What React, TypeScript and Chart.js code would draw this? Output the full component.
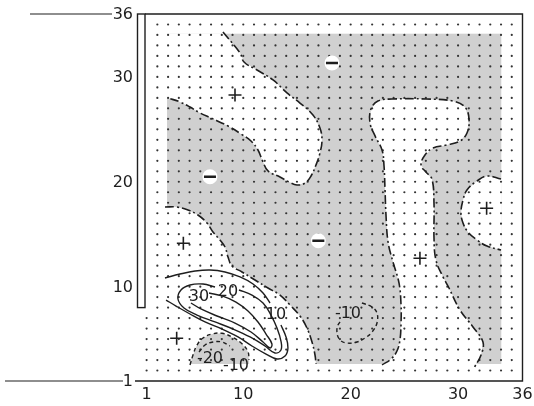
import { useEffect, useRef } from "react";
import { Chart, registerables } from "chart.js";
Chart.register(...registerables);

type P = [number, number];

const xTicks = [1, 10, 20, 30, 36];
const yTicks = [1, 10, 20, 30, 36];

const gridCols = [2,3,4,5,6,7,8,9,10,11,12,13,14,15,16,17,18,19,20,21,22,23,24,25,26,27,28,29,30,31,32,33,34,35];
const gridRows = [2,3,4,5,6,7,8,9,10,11,12,13,14,15,16,17,18,19,20,21,22,23,24,25,26,27,28,29,30,31,32,33,34,35];
const edgeCol = [1];
const edgeRows = [2,3,4,5,6,7];

// shaded (negative) field bounds: [x0, x1] and [y0, y1]
const shadeX = [2.9, 34.05];
const shadeY = [2.62, 34.15];
const barTopValue = 36;
const barBottomValue = 8;

// zero contours (dash-dot)
const zeroA: P[] = [[8.11,34.28],[9.70,32.28],[10.07,31.42],[11.28,30.66],[12.77,29.71],[14.07,28.47],[15.28,27.51],[16.49,26.37],[17.14,25.13],[17.33,23.98],[17.14,22.74],[16.77,21.60],[16.31,20.55],[15.75,19.88],[15.00,19.69],[14.26,19.98],[13.42,20.46],[12.30,21.03],[11.84,21.89],[11.37,23.03],[10.72,23.89],[9.79,24.56],[8.58,25.32],[7.00,26.08],[5.97,26.56],[5.04,27.13],[4.11,27.61],[2.99,27.99]];
const zeroAClose: P[] = [[0,27.99],[0,37],[8.11,37]];
const zeroB: P[] = [[2.71,17.59],[3.83,17.59],[4.85,17.31],[5.78,16.83],[6.62,16.07],[7.18,15.21],[7.83,14.45],[8.30,13.78],[8.58,12.83],[8.95,11.97],[9.88,11.40],[11.09,10.63],[12.30,9.87],[13.42,9.20],[14.35,8.25],[15.28,7.20],[15.93,6.05],[16.40,4.72],[16.68,3.48],[16.77,2.62]];
const zeroBClose: P[] = [[16.77,0],[0,0],[0,17.59]];
const zeroC: P[] = [[22.92,2.53],[23.76,3.10],[24.31,3.86],[24.59,4.91],[24.69,6.53],[24.69,8.25],[24.50,10.35],[23.94,12.35],[23.48,14.26],[23.29,16.83],[23.20,19.22],[23.10,21.60],[22.92,23.03],[22.27,24.37],[21.80,25.61],[21.89,26.94],[22.54,27.70],[23.85,27.89],[27.01,27.89],[29.53,27.70],[30.64,27.13],[31.02,25.99],[30.83,24.65],[30.18,23.89],[28.97,23.51],[27.67,23.22],[26.92,22.55],[26.55,21.60],[27.01,20.93],[27.57,20.26],[27.76,17.88],[27.76,14.64],[27.94,12.54],[28.60,10.92],[29.06,10.06],[30.18,7.77],[31.39,6.15],[32.32,4.72],[32.14,3.48],[31.48,2.24]];
const zeroCClose: P[] = [[31.48,0],[22.92,0]];
const zeroD: P[] = [[34.00,20.26],[32.69,20.55],[31.76,20.07],[30.83,19.22],[30.46,18.26],[30.27,17.02],[30.46,16.07],[30.92,15.21],[31.76,14.45],[32.69,13.87],[34.00,13.49]];
const zeroDClose: P[] = [[37,13.49],[37,20.26]];

// positive contours (solid)
const pos10a: P[] = [[2.71,10.82],[4.11,11.20],[5.51,11.49],[6.90,11.59],[8.30,11.40],[9.70,10.92],[10.91,10.25],[11.84,9.39],[12.49,8.44]];
const pos10b: P[] = [[13.51,6.34],[13.98,5.20],[14.16,4.15],[13.89,3.38],[13.14,3.10],[12.12,3.57],[10.81,4.34],[9.51,5.20],[8.02,5.96],[6.44,6.63],[5.04,7.39],[3.74,8.15],[2.81,8.72]];
const pos20: P[] = [[9.60,9.68],[10.81,9.20],[11.84,8.44],[12.58,7.29],[13.14,6.05],[13.51,4.81],[13.51,3.96],[12.95,3.67],[12.02,4.34],[10.63,5.20],[9.04,5.96],[7.37,6.63],[5.69,7.29],[4.48,7.96],[3.92,8.82],[4.20,9.68],[5.04,10.16],[6.25,10.25],[7.37,9.96]];
const pos30: P[] = [[6.81,9.39],[8.02,9.11],[9.32,8.53],[10.44,7.68],[11.37,6.63],[12.12,5.48],[12.67,4.53],[12.49,4.15],[11.84,4.72],[10.72,5.67],[9.23,6.53],[7.55,7.20],[6.06,7.87],[5.13,8.44]];

// negative contours (dashed)
const neg10blob: P[] = [[5.04,2.53],[5.32,3.48],[5.69,4.43],[6.25,5.10],[7.09,5.48],[8.02,5.55],[9.04,5.15],[9.88,4.55],[10.44,3.80],[10.53,3.00]];
const neg10blobClose: P[] = [[10.6,1.5],[5.0,1.5]];
const neg20: P[] = [[5.88,3.77],[6.44,4.43],[7.18,4.72],[8.02,4.72],[8.76,4.34]];
const neg10mid: P[] = [[21.05,8.44],[21.99,8.06],[22.45,7.49],[22.45,6.53],[21.99,5.67],[21.33,5.10],[20.59,4.72],[19.66,4.62],[19.01,4.91],[18.73,5.58],[18.82,6.34],[19.19,6.82]];

const contourLabels = [
  { t: "30", x: 5.88, y: 9.01 },
  { t: "20", x: 8.58, y: 9.49 },
  { t: "10", x: 13.05, y: 7.29 },
  { t: "-10", x: 19.75, y: 7.45 },
  { t: "-20", x: 6.90, y: 3.10 },
  { t: "-10", x: 9.32, y: 2.43 },
];

const plusMarks: P[] = [[9.23,28.28],[4.42,14.13],[3.80,5.07],[26.45,12.70],[32.66,17.47]];
const minusMarks: P[] = [[18.26,31.33],[6.90,20.48],[16.99,14.38]];

const INK = "#1e1e1e";
const GRAY = "rgb(208,208,208)";
const FONT = "16px 'DejaVu Sans'";

const xy = (arr: P[]) => arr.map(([x, y]) => ({ x, y }));

export default function App() {
  const ref = useRef<HTMLCanvasElement | null>(null);
  useEffect(() => {
    if (!ref.current) return;
    const dots: { x: number; y: number }[] = [];
    gridRows.forEach((r) => gridCols.forEach((c) => dots.push({ x: c, y: r })));
    edgeRows.forEach((r) => edgeCol.forEach((c) => dots.push({ x: c, y: r })));

    const line = (pts: P[], kind: "zero" | "pos" | "neg") => ({
      data: xy(pts),
      showLine: true,
      pointRadius: 0,
      borderColor: INK,
      borderWidth: kind === "zero" ? 1.6 : 1.4,
      borderDash: kind === "zero" ? [9, 3, 2, 3] : kind === "neg" ? [4, 3] : [],
      tension: 0.4,
      fill: false,
      order: 2,
    });

    const shadePlugin = {
      id: "shade",
      beforeDatasetsDraw(chart: any) {
        const { ctx } = chart;
        const px = (v: number) => chart.scales.x.getPixelForValue(v);
        const py = (v: number) => chart.scales.y.getPixelForValue(v);
        const L = px(shadeX[0]), R = px(shadeX[1]);
        const T = py(shadeY[1]), B = py(shadeY[0]);
        ctx.save();
        ctx.beginPath();
        ctx.rect(L, T, R - L, B - T);
        ctx.clip();
        ctx.fillStyle = GRAY;
        ctx.fillRect(L, T, R - L, B - T);
        const poly = (pts: P[], color: string) => {
          ctx.beginPath();
          pts.forEach(([x, y], i) => (i ? ctx.lineTo(px(x), py(y)) : ctx.moveTo(px(x), py(y))));
          ctx.closePath();
          ctx.fillStyle = color;
          ctx.fill();
        };
        poly([...zeroA, ...zeroAClose], "#fff");
        poly([...zeroB, ...zeroBClose], "#fff");
        poly([...zeroC, ...zeroCClose], "#fff");
        poly([...zeroD, ...zeroDClose], "#fff");
        poly([...neg10blob, ...neg10blobClose], GRAY);
        ctx.restore();
      },
    };

    const framePlugin = {
      id: "frame",
      afterDraw(chart: any) {
        const { ctx, chartArea: a } = chart;
        const px = (v: number) => chart.scales.x.getPixelForValue(v);
        const py = (v: number) => chart.scales.y.getPixelForValue(v);
        ctx.save();
        ctx.strokeStyle = INK;
        ctx.lineWidth = 1.4;
        ctx.beginPath();
        ctx.moveTo(a.left, a.top);
        ctx.lineTo(a.right, a.top);
        ctx.lineTo(a.right, a.bottom);
        ctx.lineTo(a.left - 10, a.bottom);
        ctx.stroke();
        const bt = py(barTopValue), bb = py(barBottomValue);
        ctx.fillStyle = "#fff";
        ctx.fillRect(a.left - 7.5, bt, 7.5, bb - bt);
        ctx.strokeRect(a.left - 7.5, bt, 7.5, bb - bt);
        ctx.lineWidth = 1.2;
        ctx.beginPath();
        ctx.moveTo(30, py(36));
        ctx.lineTo(a.left - 33, py(36));
        ctx.moveTo(5, py(1));
        ctx.lineTo(a.left - 22, py(1));
        ctx.stroke();
        ctx.fillStyle = INK;
        ctx.font = FONT;
        ctx.textAlign = "right";
        ctx.textBaseline = "middle";
        yTicks.forEach((v) => ctx.fillText(String(v), a.left - 12, py(v) + 1));
        ctx.textAlign = "center";
        ctx.textBaseline = "top";
        xTicks.forEach((v) => ctx.fillText(String(v), px(v), a.bottom + 6));
        ctx.textBaseline = "middle";
        contourLabels.forEach((l) => ctx.fillText(l.t, px(l.x), py(l.y)));
        ctx.restore();
      },
    };

    const chart = new Chart(ref.current, {
      type: "scatter",
      data: {
        datasets: [
          { data: xy(plusMarks), pointStyle: "cross", pointRadius: 6.5, borderColor: INK, borderWidth: 1.6, order: 0 } as any,
          { data: xy(minusMarks), pointStyle: "line", pointRadius: 6, borderColor: INK, borderWidth: 2.4, order: 0 } as any,
          { data: xy(minusMarks), pointStyle: "circle", pointRadius: 7.5, backgroundColor: "#fff", borderColor: "#fff", borderWidth: 0, order: 1 } as any,
          line(zeroA, "zero"),
          line(zeroB, "zero"),
          line(zeroC, "zero"),
          line(zeroD, "zero"),
          line(pos10a, "pos"),
          line(pos10b, "pos"),
          line(pos20, "pos"),
          line(pos30, "pos"),
          line(neg10blob, "neg"),
          line(neg20, "neg"),
          line(neg10mid, "neg"),
          { data: dots, pointStyle: "circle", pointRadius: 1.1, backgroundColor: "#333", borderWidth: 0, order: 3 } as any,
        ],
      },
      options: {
        animation: false,
        responsive: false,
        maintainAspectRatio: false,
        layout: { padding: { left: 145, right: 11.5, top: 14, bottom: 25 } },
        scales: {
          x: { type: "linear", min: 0.85, max: 36, display: false },
          y: { type: "linear", min: 1, max: 36, display: false },
        },
        plugins: { legend: { display: false }, tooltip: { enabled: false } },
        events: [],
      } as any,
      plugins: [shadePlugin, framePlugin],
    });
    return () => chart.destroy();
  }, []);

  return (
    <div style={{ position: "fixed", left: 0, top: 0, width: 534, height: 406, background: "#fff" }}>
      <canvas ref={ref} width={534} height={406} style={{ display: "block" }} />
    </div>
  );
}
